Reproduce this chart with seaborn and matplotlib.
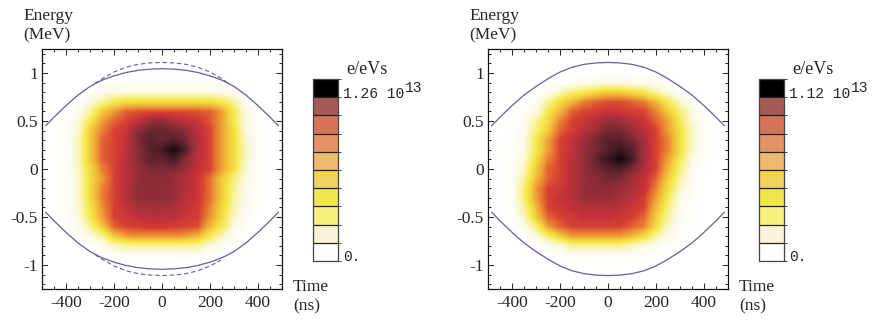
import numpy as np
import matplotlib
matplotlib.use("Agg")
import matplotlib.pyplot as plt
import seaborn as sns
from matplotlib.colors import LinearSegmentedColormap, ListedColormap, BoundaryNorm
from matplotlib.cm import ScalarMappable
from matplotlib.ticker import MultipleLocator, FuncFormatter

# grid of the density maps: columns are time (ns), rows are energy (MeV, top to bottom)
time_centers = [-450, -400, -350, -300, -250, -200, -150, -100, -50, 0,
                50, 100, 150, 200, 250, 300, 350, 400, 450]
energy_centers = [1.0, 0.9, 0.8, 0.7, 0.6, 0.5, 0.4, 0.3, 0.2, 0.1, 0.0,
                  -0.1, -0.2, -0.3, -0.4, -0.5, -0.6, -0.7, -0.8, -0.9, -1.0]

# density, relative to the peak (peak = 10)
dens_left = [
    [0] * 19,
    [0, 0, 0, 0, 0.2, 0.3, 0.3, 0.3, 0.3, 0.3, 0.3, 0.3, 0.3, 0.3, 0.2, 0, 0, 0, 0],
    [0, 0, 0, 0.3, 0.6, 1, 1, 1, 1, 1, 1, 1, 1, 1, 0.8, 0.5, 0.2, 0, 0],
    [0, 0, 0.2, 1, 2, 3, 3.5, 3.5, 3.5, 3.5, 3.5, 3.5, 3.5, 3.5, 3, 2, 0.6, 0, 0],
    [0, 0, 0.5, 2, 4, 5, 6, 6.2, 6.3, 6.3, 6.3, 6.3, 6.2, 6, 5, 3, 1, 0.2, 0],
    [0, 0.2, 1, 3, 5, 6, 6.5, 7, 7.8, 8, 7.5, 7.2, 6.8, 6.2, 5, 3, 1, 0.2, 0],
    [0, 0.3, 1.2, 4, 5.5, 6.5, 6.8, 8, 8.5, 8.5, 8.3, 8, 7.2, 6.5, 5, 3.5, 1, 0.2, 0],
    [0, 0.3, 1.5, 4, 6, 6.5, 7, 8.2, 8.8, 8.5, 8.8, 8.3, 7.3, 6.5, 5, 3.5, 1.5, 0.3, 0],
    [0, 0.3, 1.5, 4, 6, 6.5, 7, 8, 8.7, 9, 9.8, 8.8, 7.2, 6.5, 5, 3.5, 1.5, 0.3, 0],
    [0, 0.3, 1.5, 4, 6, 6.5, 7.2, 8, 8.6, 8.6, 9, 8, 7.2, 6.5, 5, 3.5, 1.5, 0.3, 0],
    [0, 0.3, 1.5, 3.5, 5.5, 6.5, 7.2, 7.8, 8.2, 8.2, 8.2, 7.8, 7, 6.5, 5, 3.5, 1.2, 0.3, 0],
    [0, 0.3, 1.3, 3.5, 5, 6.5, 7.2, 7.8, 8, 8, 7.8, 7.3, 6.8, 5.8, 4, 2.5, 1, 0.2, 0],
    [0, 0.3, 1.3, 3.5, 5.5, 6.5, 7.2, 8, 8, 8, 7.8, 7.3, 6.8, 5.8, 4, 2.2, 0.8, 0.2, 0],
    [0, 0.3, 1.3, 3.5, 5.5, 6.5, 7.2, 8, 8, 8, 7.8, 7.2, 6.8, 5.8, 4, 2, 0.7, 0.1, 0],
    [0, 0.3, 1.2, 3.2, 5.2, 6.5, 7, 7.5, 7.6, 7.6, 7.5, 7, 6.7, 5.5, 3.8, 1.8, 0.6, 0.1, 0],
    [0, 0.2, 1, 3, 5, 6.5, 6.8, 7, 7.2, 7.2, 7.1, 6.8, 6.6, 5.2, 3.5, 1.5, 0.5, 0, 0],
    [0, 0.1, 0.7, 2, 4, 6, 6.5, 6.6, 6.7, 6.7, 6.6, 6.5, 6.3, 4.5, 3, 1, 0.3, 0, 0],
    [0, 0, 0.3, 1, 2, 4, 5, 5.2, 5.2, 5.2, 5.2, 5, 4.5, 3, 1.5, 0.5, 0.1, 0, 0],
    [0, 0, 0, 0.2, 0.5, 1.5, 2, 2, 2, 2, 2, 2, 2, 1, 0.5, 0.2, 0, 0, 0],
    [0, 0, 0, 0, 0.1, 0.3, 0.5, 0.5, 0.5, 0.5, 0.5, 0.5, 0.5, 0.3, 0.1, 0, 0, 0, 0],
    [0] * 19,
]

dens_right = [
    [0] * 19,
    [0, 0, 0, 0, 0, 0.2, 0.4, 0.6, 0.8, 0.9, 0.9, 0.8, 0.6, 0.4, 0.2, 0, 0, 0, 0],
    [0, 0, 0, 0, 0.5, 1.5, 2.5, 3, 3.5, 4, 4, 3.5, 3, 2, 1, 0.3, 0, 0, 0],
    [0, 0, 0, 0.5, 2, 3.5, 4.5, 5.5, 6, 6.3, 6.3, 6, 5.5, 4.5, 3, 1.5, 0.5, 0, 0],
    [0, 0, 0.2, 1, 3, 4.5, 6, 6.5, 6.6, 6.8, 6.8, 6.6, 6.5, 5.5, 4, 2.5, 1, 0.2, 0],
    [0, 0, 0.5, 2, 3.5, 5.5, 6.5, 6.8, 7.3, 7.8, 7.8, 7.3, 6.8, 6, 5, 3, 1.2, 0.3, 0],
    [0, 0.1, 0.7, 2.5, 4, 6, 6.6, 7.2, 7.8, 8.3, 8.3, 7.8, 7.2, 6.5, 5, 3.5, 1.5, 0.3, 0],
    [0, 0.2, 0.8, 3, 5, 6.5, 7, 7.8, 8.3, 8.7, 8.7, 8.3, 7.6, 6.5, 5.5, 3.5, 1.5, 0.3, 0],
    [0, 0.2, 1, 3, 5, 6.5, 7, 7.8, 8.3, 8.8, 9.2, 8.8, 7.6, 6.5, 5.5, 3.5, 1.5, 0.3, 0],
    [0, 0.2, 1.2, 3.5, 5.5, 6.5, 7.2, 7.8, 8.6, 9.2, 9.8, 9, 7.6, 6.5, 5, 3, 1, 0.2, 0],
    [0, 0.3, 1.5, 4, 6, 6.5, 7.2, 7.8, 8.3, 8.7, 8.8, 8.2, 7.5, 6.5, 4.5, 2.5, 0.8, 0.1, 0],
    [0, 0.3, 2, 4.5, 6, 6.6, 7.2, 7.8, 8, 8.3, 8.2, 7.6, 7, 6, 4, 2, 0.5, 0, 0],
    [0, 0.4, 2.5, 5, 6.5, 6.7, 7.2, 7.8, 8, 8, 7.8, 7.5, 7, 5.5, 3.5, 1.5, 0.4, 0, 0],
    [0, 0.4, 2.5, 5, 6.5, 7, 7.2, 7.8, 7.8, 7.8, 7.6, 7.2, 6.6, 5, 3, 1, 0.3, 0, 0],
    [0, 0.3, 2, 4.5, 6.5, 6.7, 7.1, 7.3, 7.3, 7.3, 7.2, 6.8, 6.5, 4.5, 2.5, 0.8, 0.2, 0, 0],
    [0, 0.2, 1.5, 4, 6, 6.5, 6.7, 7, 7, 7, 6.8, 6.6, 6, 4, 2, 0.6, 0.1, 0, 0],
    [0, 0, 0.8, 2.5, 5, 6, 6.5, 6.5, 6.5, 6.5, 6.5, 6, 5.5, 3.5, 1.5, 0.4, 0, 0, 0],
    [0, 0, 0.3, 1, 2.5, 4, 5, 5, 5, 5, 5, 4.5, 3.5, 2, 0.8, 0.2, 0, 0, 0],
    [0, 0, 0, 0, 0.5, 1.2, 2, 2, 2, 2, 2, 1.5, 1, 0.5, 0.2, 0, 0, 0, 0],
    [0, 0, 0, 0, 0, 0.2, 0.4, 0.4, 0.4, 0.4, 0.4, 0.4, 0.2, 0, 0, 0, 0, 0, 0],
    [0] * 19,
]

# separatrix curves (ns, MeV)
sep_t = [-485, -450, -400, -350, -300, -250, -200, -150, -100, -50, 0,
         50, 100, 150, 200, 250, 300, 350, 400, 450, 485]
sep_full = [0.45, 0.54, 0.66, 0.77, 0.86, 0.94, 1.01, 1.06, 1.09, 1.105, 1.11,
            1.105, 1.09, 1.06, 1.01, 0.94, 0.86, 0.77, 0.66, 0.54, 0.45]
sep_cut = [0.45, 0.54, 0.66, 0.77, 0.86, 0.925, 0.97, 1.005, 1.028, 1.04, 1.045,
           1.04, 1.028, 1.005, 0.97, 0.925, 0.86, 0.77, 0.66, 0.54, 0.45]
dash_up_t = [-280, -250, -200, -150, -100, -50, 0, 50, 100, 150, 200, 250, 270]
dash_up_e = [0.89, 0.94, 1.01, 1.06, 1.09, 1.105, 1.11, 1.105, 1.09, 1.06, 1.01, 0.94, 0.905]
dash_lo_t = [-280, -250, -200, -150, -100, -50, 0, 50, 100, 150, 200, 245]
dash_lo_e = [-0.89, -0.94, -1.01, -1.06, -1.09, -1.105, -1.11, -1.105, -1.09, -1.06, -1.01, -0.95]

peak_labels = ["1.26 10", "1.12 10"]
swatches = ["#ffffff", "#f9f4d8", "#f7f07d", "#f2e552", "#eed45c",
            "#ecba6e", "#e59266", "#d77358", "#a55a55", "#000000"]

sns.set_style("ticks")
plt.rcParams["font.family"] = ["Liberation Serif", "DejaVu Serif"]
plt.rcParams["axes.unicode_minus"] = False

W, H = 883, 322
fig = plt.figure(figsize=(W / 100, H / 100), dpi=100)


def fx(x):
    return x / W


def fy(y):
    return 1 - y / H


heat_cmap = LinearSegmentedColormap.from_list("sunset", [
    (0.0, (1, 1, 1)),
    (0.1, (252 / 255, 249 / 255, 228 / 255)),
    (0.2, (249 / 255, 243 / 255, 160 / 255)),
    (0.3, (246 / 255, 234 / 255, 80 / 255)),
    (0.4, (243 / 255, 205 / 255, 60 / 255)),
    (0.5, (239 / 255, 160 / 255, 55 / 255)),
    (0.6, (228 / 255, 100 / 255, 50 / 255)),
    (0.65, (215 / 255, 65 / 255, 50 / 255)),
    (0.7, (195 / 255, 50 / 255, 58 / 255)),
    (0.75, (170 / 255, 48 / 255, 58 / 255)),
    (0.8, (140 / 255, 45 / 255, 55 / 255)),
    (0.85, (105 / 255, 38 / 255, 48 / 255)),
    (0.9, (70 / 255, 28 / 255, 38 / 255)),
    (1.0, (10 / 255, 5 / 255, 10 / 255)),
])

line_col = "#6a5aa8"
panels = [
    dict(left=42, dens=dens_left, cut=True, label=peak_labels[0]),
    dict(left=488, dens=dens_right, cut=False, label=peak_labels[1]),
]

for p in panels:
    x0 = p["left"]
    ax = fig.add_axes([fx(x0), fy(289), 240 / W, 240 / H])
    ax.imshow(np.array(p["dens"]), cmap=heat_cmap, vmin=0, vmax=10,
              extent=(time_centers[0] - 25, time_centers[-1] + 25,
                      energy_centers[-1] - 0.05, energy_centers[0] + 0.05),
              origin="upper", interpolation="bilinear", aspect="auto", zorder=1)
    upper = sep_cut if p["cut"] else sep_full
    sns.lineplot(x=sep_t, y=upper, ax=ax, color=line_col, lw=0.9, sort=False, zorder=3)
    sns.lineplot(x=sep_t, y=[-v for v in upper], ax=ax, color=line_col, lw=0.9,
                 sort=False, zorder=3)
    if p["cut"]:
        sns.lineplot(x=dash_up_t, y=dash_up_e, ax=ax, color=line_col, lw=0.8,
                     sort=False, zorder=3)
        ax.lines[-1].set_dashes([4, 2.5])
        sns.lineplot(x=dash_lo_t, y=dash_lo_e, ax=ax, color=line_col, lw=0.8,
                     sort=False, zorder=3)
        ax.lines[-1].set_dashes([4, 2.5])
    ax.set_xlim(-500, 500)
    ax.set_ylim(-1.25, 1.25)
    ax.xaxis.set_major_locator(MultipleLocator(200))
    ax.xaxis.set_minor_locator(MultipleLocator(50))
    ax.yaxis.set_major_locator(MultipleLocator(0.5))
    ax.yaxis.set_minor_locator(MultipleLocator(0.1))
    ax.yaxis.set_major_formatter(FuncFormatter(lambda v, _: f"{v:g}"))
    ax.xaxis.set_major_formatter(FuncFormatter(lambda v, _: f"{v:g}"))
    ax.tick_params(which="both", direction="in", top=True, right=True,
                   labeltop=False, labelright=False, width=0.7, color="#222222")
    ax.tick_params(which="major", length=4)
    ax.tick_params(which="minor", length=2)
    ax.tick_params(axis="x", pad=4, labelsize=12.5)
    ax.tick_params(axis="y", pad=3, labelsize=12.5)
    for s in ax.spines.values():
        s.set_linewidth(0.9)
        s.set_color("#111111")
    ax.set_xlabel("")
    ax.set_ylabel("")

    fig.text(fx(x0 - 19), fy(16), "Energy", fontsize=12.5, va="center", ha="left")
    fig.text(fx(x0 - 19), fy(35), "(MeV)", fontsize=12.5, va="center", ha="left")
    fig.text(fx(x0 + 251), fy(287), "Time", fontsize=12.5, va="center", ha="left")
    fig.text(fx(x0 + 251), fy(306), "(ns)", fontsize=12.5, va="center", ha="left")

    cb_left = x0 + 271
    cax = fig.add_axes([fx(cb_left), fy(261), 25 / W, 182 / H])
    cb = fig.colorbar(ScalarMappable(norm=BoundaryNorm(np.arange(11), 10),
                                     cmap=ListedColormap(swatches)),
                      cax=cax, drawedges=True, ticks=[])
    cb.outline.set_linewidth(0.9)
    cb.outline.set_edgecolor("#444444")
    cb.dividers.set_color("#222222")
    cb.dividers.set_linewidth(0.9)

    fig.text(fx(cb_left + 33), fy(69), "e/eVs", fontsize=13, va="center", ha="left")
    fig.text(fx(cb_left + 30), fy(94), p["label"], fontsize=10.5,
             family="Liberation Mono", va="center", ha="left")
    fig.text(fx(cb_left + 92), fy(88), "13", fontsize=10.5,
             family="Liberation Mono", va="center", ha="left")
    fig.text(fx(cb_left + 30), fy(257), "0.", fontsize=10.5,
             family="Liberation Mono", va="center", ha="left")

fig.savefig("out.png", dpi=100)
